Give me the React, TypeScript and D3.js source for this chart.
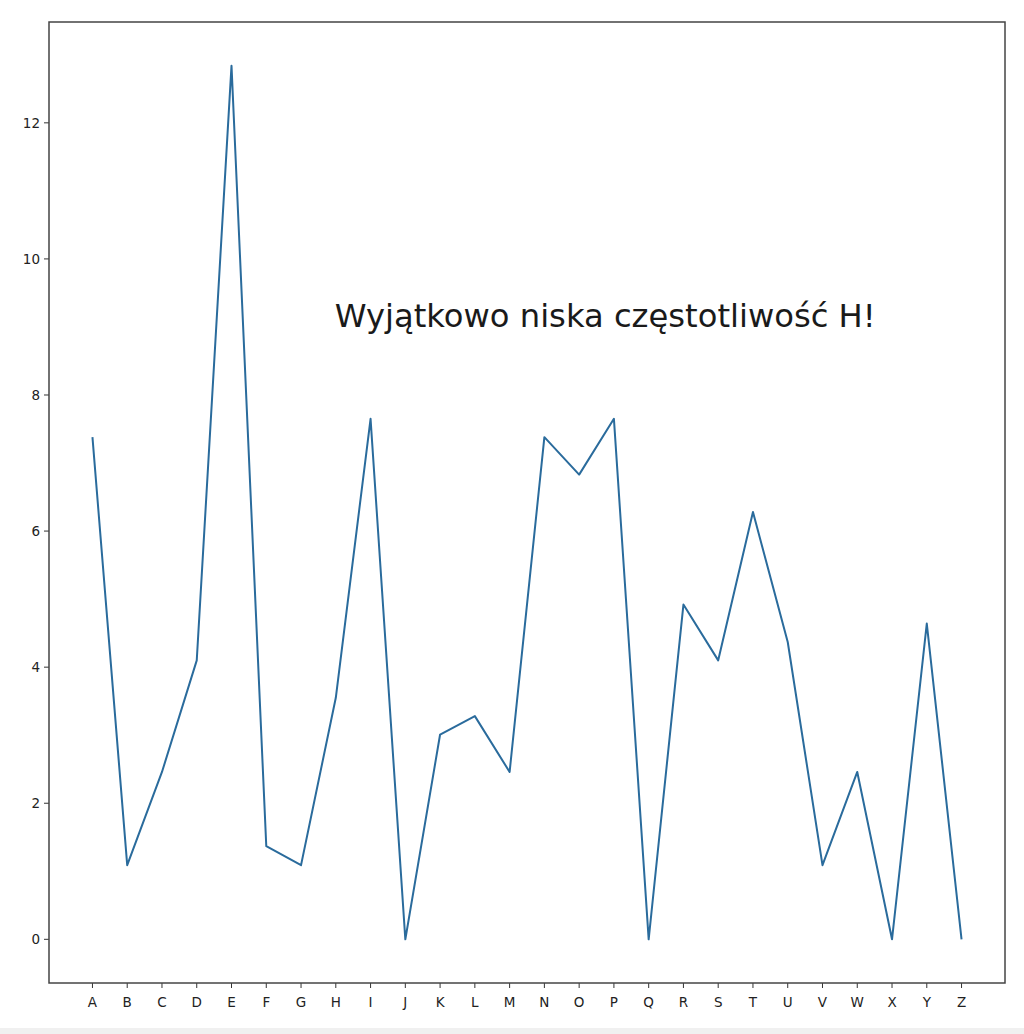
import { useMemo } from 'react';
import * as d3 from 'd3';

const letters = [
  'A', 'B', 'C', 'D', 'E', 'F', 'G', 'H', 'I', 'J', 'K', 'L', 'M',
  'N', 'O', 'P', 'Q', 'R', 'S', 'T', 'U', 'V', 'W', 'X', 'Y', 'Z',
];

// letter frequency (%)
const freq = [
  7.38, 1.09, 2.46, 4.1, 12.84, 1.37, 1.09, 3.55, 7.65, 0, 3.01, 3.28, 2.46,
  7.38, 6.83, 7.65, 0, 4.92, 4.1, 6.28, 4.37, 1.09, 2.46, 0, 4.64, 0,
];

const yTicks = [0, 2, 4, 6, 8, 10, 12];

const annotation = 'Wyjątkowo niska częstotliwość H!';

const W = 1024;
const H = 1034;
const margin = { left: 49, right: 19, top: 22, bottom: 51 };

export default function App() {
  const { x, y, linePath } = useMemo(() => {
    const n = letters.length - 1;
    const x = d3
      .scaleLinear()
      .domain([-0.05 * n, n * 1.05])
      .range([margin.left, W - margin.right]);
    const yMax = d3.max(freq) ?? 1;
    const pad = yMax * 0.05;
    const y = d3
      .scaleLinear()
      .domain([-pad, yMax + pad])
      .range([H - margin.bottom, margin.top]);
    const line = d3
      .line<number>()
      .x((_, i) => x(i))
      .y((d) => y(d));
    return { x, y, linePath: line(freq) ?? '' };
  }, []);

  const x0 = margin.left;
  const x1 = W - margin.right;
  const y0 = H - margin.bottom;
  const y1 = margin.top;
  const font = '"DejaVu Sans", sans-serif';

  return (
    <div style={{ position: 'absolute', left: 0, top: 0 }}>
      <svg width={W} height={H} style={{ display: 'block', background: '#fff' }}>
        <rect x={0} y={1028} width={W} height={6} fill="#f0f0f0" />
        <path d={linePath} fill="none" stroke="#2a6b9c" strokeWidth={2} strokeLinejoin="round" />

        <text x={x(6.97)} y={y(9.0)} fontFamily={font} fontSize={32.2} fill="#1a1a1a">
          {annotation}
        </text>

        {yTicks.map((t) => (
          <g key={t}>
            <line x1={x0 - 5} x2={x0} y1={y(t)} y2={y(t)} stroke="#333" strokeWidth={1} />
            <text
              x={x0 - 9}
              y={y(t)}
              dy="0.36em"
              textAnchor="end"
              fontFamily={font}
              fontSize={13.5}
              fill="#222"
            >
              {t}
            </text>
          </g>
        ))}

        {letters.map((l, i) => (
          <g key={l}>
            <line x1={x(i)} x2={x(i)} y1={y0} y2={y0 + 5} stroke="#333" strokeWidth={1} />
            <text
              x={x(i)}
              y={y0 + 24}
              textAnchor="middle"
              fontFamily={font}
              fontSize={13.5}
              fill="#222"
            >
              {l}
            </text>
          </g>
        ))}

        <rect
          x={x0}
          y={y1}
          width={x1 - x0}
          height={y0 - y1}
          fill="none"
          stroke="#444"
          strokeWidth={1.5}
        />
      </svg>
    </div>
  );
}
